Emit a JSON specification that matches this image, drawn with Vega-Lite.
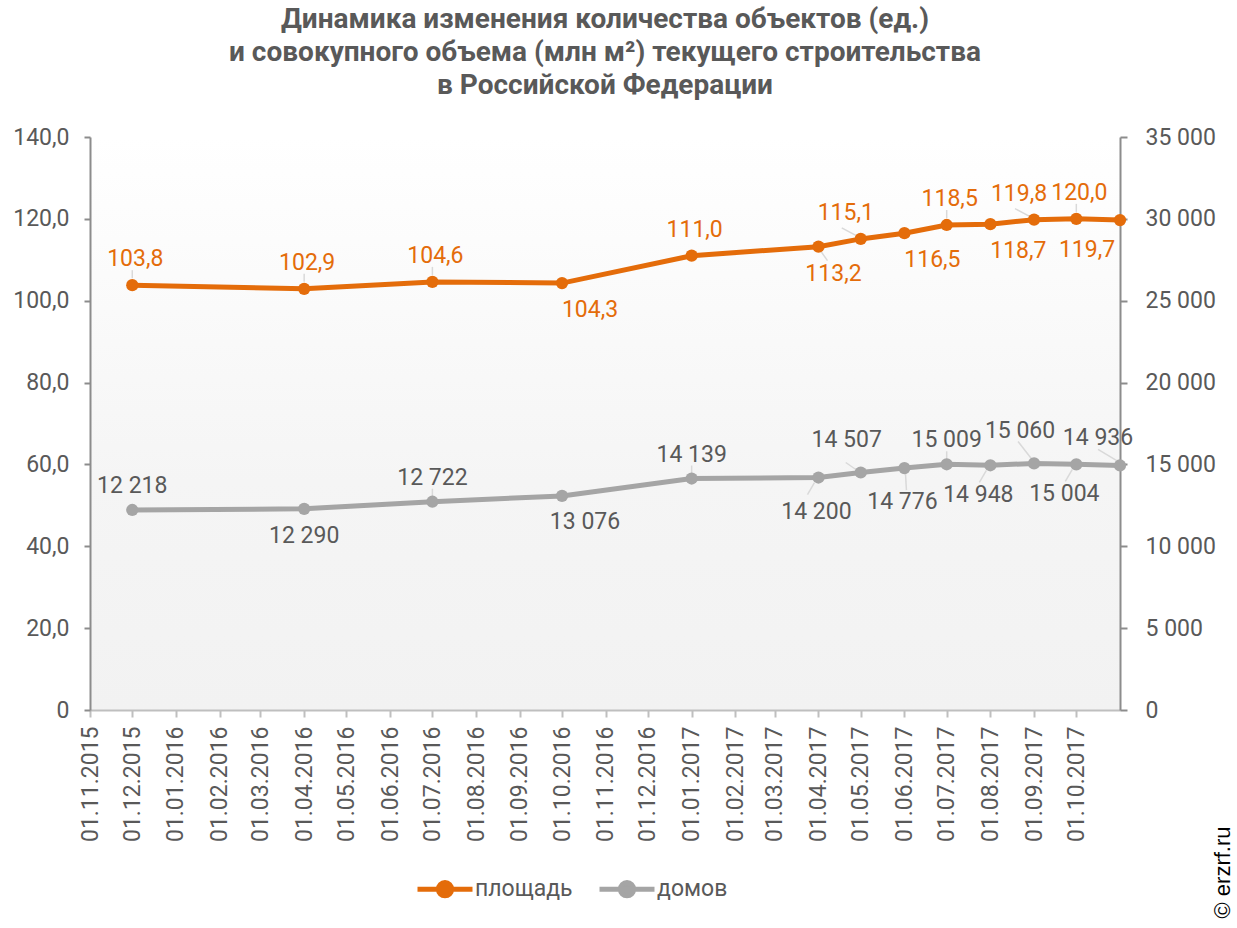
{
  "$schema": "https://vega.github.io/schema/vega-lite/v6.json",
  "autosize": {"type": "none"},
  "width": 1030,
  "height": 573,
  "padding": {"left": 90, "top": 137, "right": 117, "bottom": 218},
  "background": "#ffffff",
  "title": {
    "text": ["Динамика изменения количества объектов (ед.)", "и совокупного объема (млн м²) текущего строительства", "в Российской Федерации"],
    "font": "Roboto", "fontSize": 28, "fontWeight": "bold", "color": "#595959",
    "lineHeight": 33, "anchor": "middle", "frame": "group", "offset": 26
  },
  "config": {
    "locale": {"number": {"decimal": ",", "thousands": "\u00a0", "grouping": [3], "currency": ["", ""]}},
    "view": {"stroke": null, "fill": {"gradient": "linear", "x1": 0, "y1": 0, "x2": 0, "y2": 1, "stops": [{"offset": 0, "color": "#ffffff"}, {"offset": 0.6, "color": "#f5f5f5"}, {"offset": 1, "color": "#f2f2f2"}]}},
    "font": "Roboto",
    "axis": {"labelFont": "Roboto", "labelFontSize": 23, "labelColor": "#595959", "grid": false, "labelFlush": false, "labelOverlap": false, "labelBound": false}
  },
  "data": {
    "values": [
      {"date": "2015-12-01", "area": 103.8, "houses": 12218},
      {"date": "2016-04-01", "area": 102.9, "houses": 12290},
      {"date": "2016-07-01", "area": 104.6, "houses": 12722},
      {"date": "2016-10-01", "area": 104.3, "houses": 13076},
      {"date": "2017-01-01", "area": 111.0, "houses": 14139},
      {"date": "2017-04-01", "area": 113.2, "houses": 14200},
      {"date": "2017-05-01", "area": 115.1, "houses": 14507},
      {"date": "2017-06-01", "area": 116.5, "houses": 14776},
      {"date": "2017-07-01", "area": 118.5, "houses": 15009},
      {"date": "2017-08-01", "area": 118.7, "houses": 14948},
      {"date": "2017-09-01", "area": 119.8, "houses": 15060},
      {"date": "2017-10-01", "area": 120.0, "houses": 15004},
      {"date": "2017-11-01", "area": 119.7, "houses": 14936}
    ],
    "format": {"parse": {"date": "date"}}
  },
  "encoding": {
    "x": {
      "field": "date", "type": "temporal",
      "scale": {"type": "utc", "domain": [{"year": 2015, "month": 11, "date": 1, "utc": true}, {"year": 2017, "month": 11, "date": 1, "utc": true}]},
      "axis": {
        "title": null, "format": "%d.%m.%Y", "labelAngle": 270, "labelAlign": "right", "labelBaseline": "middle", "labelPadding": 9,
        "domainColor": "#bfbfbf", "domainWidth": 2, "tickColor": "#bfbfbf", "tickWidth": 2, "tickSize": 7,
        "values": [
          {"year": 2015, "month": 11, "date": 1, "utc": true}, {"year": 2015, "month": 12, "date": 1, "utc": true},
          {"year": 2016, "month": 1, "date": 1, "utc": true}, {"year": 2016, "month": 2, "date": 1, "utc": true},
          {"year": 2016, "month": 3, "date": 1, "utc": true}, {"year": 2016, "month": 4, "date": 1, "utc": true},
          {"year": 2016, "month": 5, "date": 1, "utc": true}, {"year": 2016, "month": 6, "date": 1, "utc": true},
          {"year": 2016, "month": 7, "date": 1, "utc": true}, {"year": 2016, "month": 8, "date": 1, "utc": true},
          {"year": 2016, "month": 9, "date": 1, "utc": true}, {"year": 2016, "month": 10, "date": 1, "utc": true},
          {"year": 2016, "month": 11, "date": 1, "utc": true}, {"year": 2016, "month": 12, "date": 1, "utc": true},
          {"year": 2017, "month": 1, "date": 1, "utc": true}, {"year": 2017, "month": 2, "date": 1, "utc": true},
          {"year": 2017, "month": 3, "date": 1, "utc": true}, {"year": 2017, "month": 4, "date": 1, "utc": true},
          {"year": 2017, "month": 5, "date": 1, "utc": true}, {"year": 2017, "month": 6, "date": 1, "utc": true},
          {"year": 2017, "month": 7, "date": 1, "utc": true}, {"year": 2017, "month": 8, "date": 1, "utc": true},
          {"year": 2017, "month": 9, "date": 1, "utc": true}, {"year": 2017, "month": 10, "date": 1, "utc": true}
        ]
      }
    }
  },
  "layer": [
    {
      "encoding": {
        "y": {
          "field": "area", "type": "quantitative",
          "scale": {"domain": [0, 140], "nice": false, "zero": true},
          "axis": {"orient": "left", "title": null, "values": [0, 20, 40, 60, 80, 100, 120, 140], "format": ".1f",
                   "labelExpr": "datum.value === 0 ? '0' : datum.label", "labelPadding": 15,
                   "domainColor": "#8c8c8c", "domainWidth": 2, "tickColor": "#8c8c8c", "tickWidth": 2, "tickSize": 6}
        }
      },
      "layer": [
        {
          "transform": [{"filter": "indexof(['2015-12','2016-04','2016-07','2017-07','2017-10'], utcFormat(datum.date, '%Y-%m')) >= 0"}],
          "mark": {"type": "rule", "color": "#d9d9d9", "strokeWidth": 1.5, "xOffset": 0, "yOffset": -7, "x2Offset": 0, "y2Offset": -15},
          "encoding": {"x2": {"field": "date"}, "y2": {"field": "area"}}
        },
        {
          "transform": [{"filter": "indexof(['2017-04'], utcFormat(datum.date, '%Y-%m')) >= 0"}],
          "mark": {"type": "rule", "color": "#d9d9d9", "strokeWidth": 1.5, "xOffset": 2, "yOffset": 4, "x2Offset": 9, "y2Offset": 14},
          "encoding": {"x2": {"field": "date"}, "y2": {"field": "area"}}
        },
        {
          "transform": [{"filter": "indexof(['2017-05','2017-09'], utcFormat(datum.date, '%Y-%m')) >= 0"}],
          "mark": {"type": "rule", "color": "#d9d9d9", "strokeWidth": 1.5, "xOffset": -4, "yOffset": -3, "x2Offset": -19, "y2Offset": -11},
          "encoding": {"x2": {"field": "date"}, "y2": {"field": "area"}}
        },
        {
          "mark": {"type": "line", "strokeWidth": 5, "point": {"filled": true, "size": 150, "opacity": 1}},
          "encoding": {
            "color": {
              "datum": "площадь", "type": "nominal",
              "scale": {"domain": ["площадь", "домов"], "range": ["#e46c0a", "#a5a5a5"]},
              "legend": {
                "title": null, "orient": "none", "direction": "horizontal", "legendX": 325, "legendY": 722,
                "labelFont": "Roboto", "labelFontSize": 23, "labelColor": "#595959", "labelOffset": 0, "columnPadding": 16, "padding": 0,
                "symbolType": "M-1,0L1,0M0.24,0A0.24,0.24,0,1,1,-0.24,0A0.24,0.24,0,1,1,0.24,0Z",
                "symbolSize": 3025, "symbolStrokeWidth": 5,
                "encode": {"symbols": {"update": {"fill": {"scale": "color", "field": "value"}, "stroke": {"scale": "color", "field": "value"}, "strokeWidth": {"value": 5}, "opacity": {"value": 1}}}}
              }
            }
          }
        },
        {
          "transform": [{"filter": "indexof(['2015-12','2016-04','2016-07','2017-01','2017-07','2017-10'], utcFormat(datum.date, '%Y-%m')) >= 0"}],
          "mark": {"type": "text", "font": "Roboto", "fontSize": 23, "color": "#e46c0a", "baseline": "middle", "dx": 3, "dy": -26},
          "encoding": {"text": {"field": "area", "type": "quantitative", "format": ".1f"}}
        },
        {
          "transform": [{"filter": "indexof(['2016-10','2017-06','2017-08'], utcFormat(datum.date, '%Y-%m')) >= 0"}],
          "mark": {"type": "text", "font": "Roboto", "fontSize": 23, "color": "#e46c0a", "baseline": "middle", "dx": 28, "dy": 27},
          "encoding": {"text": {"field": "area", "type": "quantitative", "format": ".1f"}}
        },
        {
          "transform": [{"filter": "indexof(['2017-04'], utcFormat(datum.date, '%Y-%m')) >= 0"}],
          "mark": {"type": "text", "font": "Roboto", "fontSize": 23, "color": "#e46c0a", "baseline": "middle", "dx": 15, "dy": 27},
          "encoding": {"text": {"field": "area", "type": "quantitative", "format": ".1f"}}
        },
        {
          "transform": [{"filter": "indexof(['2017-05','2017-09'], utcFormat(datum.date, '%Y-%m')) >= 0"}],
          "mark": {"type": "text", "font": "Roboto", "fontSize": 23, "color": "#e46c0a", "baseline": "middle", "dx": -15, "dy": -26},
          "encoding": {"text": {"field": "area", "type": "quantitative", "format": ".1f"}}
        },
        {
          "transform": [{"filter": "indexof(['2017-11'], utcFormat(datum.date, '%Y-%m')) >= 0"}],
          "mark": {"type": "text", "font": "Roboto", "fontSize": 23, "color": "#e46c0a", "baseline": "middle", "dx": -33, "dy": 30},
          "encoding": {"text": {"field": "area", "type": "quantitative", "format": ".1f"}}
        }
      ]
    },
    {
      "encoding": {
        "y": {
          "field": "houses", "type": "quantitative",
          "scale": {"domain": [0, 35000], "nice": false, "zero": true},
          "axis": {"orient": "right", "values": [0, 5000, 10000, 15000, 20000, 25000, 30000, 35000], "format": ",.0f", "labelPadding": 18,
                   "domainColor": "#8c8c8c", "domainWidth": 2, "tickColor": "#8c8c8c", "tickWidth": 2, "tickSize": 7,
                   "title": "© erzrf.ru", "titleFont": "Liberation Sans", "titleFontSize": 22, "titleFontWeight": "normal", "titleColor": "#000000",
                   "titleAngle": 270, "titleX": 109, "titleY": 781, "titleAlign": "left", "titleBaseline": "alphabetic"}
        }
      },
      "layer": [
        {
          "transform": [{"filter": "indexof(['2016-07','2017-01','2017-07'], utcFormat(datum.date, '%Y-%m')) >= 0"}],
          "mark": {"type": "rule", "color": "#d9d9d9", "strokeWidth": 1.5, "xOffset": 0, "yOffset": -4, "x2Offset": 0, "y2Offset": -13},
          "encoding": {"x2": {"field": "date"}, "y2": {"field": "houses"}}
        },
        {
          "transform": [{"filter": "indexof(['2017-04','2017-08','2017-10'], utcFormat(datum.date, '%Y-%m')) >= 0"}],
          "mark": {"type": "rule", "color": "#d9d9d9", "strokeWidth": 1.5, "xOffset": -4, "yOffset": 5, "x2Offset": -11, "y2Offset": 17},
          "encoding": {"x2": {"field": "date"}, "y2": {"field": "houses"}}
        },
        {
          "transform": [{"filter": "indexof(['2017-05'], utcFormat(datum.date, '%Y-%m')) >= 0"}],
          "mark": {"type": "rule", "color": "#d9d9d9", "strokeWidth": 1.5, "xOffset": -2, "yOffset": -1, "x2Offset": -15, "y2Offset": -10},
          "encoding": {"x2": {"field": "date"}, "y2": {"field": "houses"}}
        },
        {
          "transform": [{"filter": "indexof(['2017-09'], utcFormat(datum.date, '%Y-%m')) >= 0"}],
          "mark": {"type": "rule", "color": "#d9d9d9", "strokeWidth": 1.5, "xOffset": -2, "yOffset": -4, "x2Offset": -16, "y2Offset": -22},
          "encoding": {"x2": {"field": "date"}, "y2": {"field": "houses"}}
        },
        {
          "transform": [{"filter": "indexof(['2017-11'], utcFormat(datum.date, '%Y-%m')) >= 0"}],
          "mark": {"type": "rule", "color": "#d9d9d9", "strokeWidth": 1.5, "xOffset": -2, "yOffset": -4, "x2Offset": -22, "y2Offset": -16},
          "encoding": {"x2": {"field": "date"}, "y2": {"field": "houses"}}
        },
        {
          "transform": [{"filter": "indexof(['2017-06'], utcFormat(datum.date, '%Y-%m')) >= 0"}],
          "mark": {"type": "rule", "color": "#d9d9d9", "strokeWidth": 1.5, "xOffset": 1, "yOffset": 4, "x2Offset": 2, "y2Offset": 22},
          "encoding": {"x2": {"field": "date"}, "y2": {"field": "houses"}}
        },
        {
          "mark": {"type": "line", "strokeWidth": 5, "point": {"filled": true, "size": 150, "opacity": 1}},
          "encoding": {"color": {"datum": "домов", "type": "nominal"}}
        },
        {
          "transform": [{"filter": "indexof(['2015-12','2016-07','2017-01','2017-07'], utcFormat(datum.date, '%Y-%m')) >= 0"}],
          "mark": {"type": "text", "font": "Roboto", "fontSize": 23, "color": "#595959", "baseline": "middle", "dx": 0, "dy": -24},
          "encoding": {"text": {"field": "houses", "type": "quantitative", "format": ",.0f"}}
        },
        {
          "transform": [{"filter": "indexof(['2016-04'], utcFormat(datum.date, '%Y-%m')) >= 0"}],
          "mark": {"type": "text", "font": "Roboto", "fontSize": 23, "color": "#595959", "baseline": "middle", "dx": 0, "dy": 27},
          "encoding": {"text": {"field": "houses", "type": "quantitative", "format": ",.0f"}}
        },
        {
          "transform": [{"filter": "indexof(['2016-10'], utcFormat(datum.date, '%Y-%m')) >= 0"}],
          "mark": {"type": "text", "font": "Roboto", "fontSize": 23, "color": "#595959", "baseline": "middle", "dx": 23, "dy": 26},
          "encoding": {"text": {"field": "houses", "type": "quantitative", "format": ",.0f"}}
        },
        {
          "transform": [{"filter": "indexof(['2017-04','2017-06'], utcFormat(datum.date, '%Y-%m')) >= 0"}],
          "mark": {"type": "text", "font": "Roboto", "fontSize": 23, "color": "#595959", "baseline": "middle", "dx": -2, "dy": 34},
          "encoding": {"text": {"field": "houses", "type": "quantitative", "format": ",.0f"}}
        },
        {
          "transform": [{"filter": "indexof(['2017-05','2017-09'], utcFormat(datum.date, '%Y-%m')) >= 0"}],
          "mark": {"type": "text", "font": "Roboto", "fontSize": 23, "color": "#595959", "baseline": "middle", "dx": -14, "dy": -32},
          "encoding": {"text": {"field": "houses", "type": "quantitative", "format": ",.0f"}}
        },
        {
          "transform": [{"filter": "indexof(['2017-08','2017-10'], utcFormat(datum.date, '%Y-%m')) >= 0"}],
          "mark": {"type": "text", "font": "Roboto", "fontSize": 23, "color": "#595959", "baseline": "middle", "dx": -12, "dy": 30},
          "encoding": {"text": {"field": "houses", "type": "quantitative", "format": ",.0f"}}
        },
        {
          "transform": [{"filter": "indexof(['2017-11'], utcFormat(datum.date, '%Y-%m')) >= 0"}],
          "mark": {"type": "text", "font": "Roboto", "fontSize": 23, "color": "#595959", "baseline": "middle", "dx": -22, "dy": -27},
          "encoding": {"text": {"field": "houses", "type": "quantitative", "format": ",.0f"}}
        }
      ]
    }
  ],
  "resolve": {"scale": {"y": "independent"}}
}
